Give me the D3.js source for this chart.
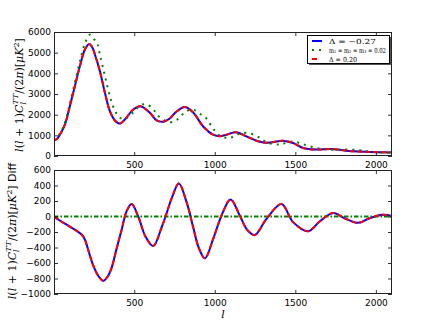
<!DOCTYPE html>
<html>
<head>
<meta charset="utf-8">
<script src="https://cdn.jsdelivr.net/npm/d3@7"></script>
<style>
  body { margin: 0; background: #fff; }
  svg { display: block; }
</style>
</head>
<body>
<div id="chart"></div>
<script>
// ---------------------------------- DATA ---------------------------------- //

// Delta = -0.27 (blue) and Delta = 0.20 (red) overlap exactly
let l_delta = [2, 20, 40, 70, 100, 130, 163, 194, 221, 240, 256, 287, 318, 349, 380, 411, 442, 494, 539, 597, 639, 680, 721, 752, 814, 866, 928, 990, 1031, 1073, 1130, 1197, 1259, 1321, 1392, 1420, 1486, 1548, 1630, 1724, 1858, 1961, 2100];
let cl_delta = [760, 820, 1050, 1530, 2400, 3330, 4350, 5150, 5420, 5250, 4910, 4100, 3060, 2170, 1720, 1570, 1770, 2250, 2410, 2090, 1720, 1660, 1815, 2075, 2370, 2105, 1430, 1030, 960, 1030, 1150, 950, 740, 640, 710, 740, 630, 390, 310, 340, 225, 195, 175];

// m1 = m2 = m3 = 0.02 (green)
let l_mass = [2, 40, 70, 100, 130, 163, 194, 225, 246, 267, 287, 318, 349, 380, 411, 442, 494, 539, 577, 618, 639, 680, 721, 752, 777, 814, 866, 900, 939, 990, 1031, 1073, 1098, 1130, 1155, 1197, 1248, 1290, 1321, 1392, 1420, 1486, 1548, 1630, 1693, 1734, 1806, 1889, 1961, 2044, 2100];
let cl_mass = [740, 1100, 1620, 2530, 3500, 4570, 5450, 5870, 5680, 5520, 4895, 3880, 2890, 2200, 1850, 1800, 2110, 2460, 2490, 2275, 2020, 1760, 1620, 1720, 1810, 2120, 2245, 2070, 1900, 1320, 980, 880, 875, 1020, 1070, 1120, 1010, 830, 660, 555, 585, 700, 565, 385, 320, 297, 310, 290, 215, 158, 170];

// difference panel
let l_diff = [2, 40, 100, 150, 175, 194, 220, 246, 275, 308, 335, 360, 390, 422, 453, 484, 525, 570, 618, 670, 700, 735, 777, 825, 866, 900, 939, 990, 1042, 1098, 1155, 1200, 1248, 1321, 1414, 1486, 1579, 1651, 1734, 1806, 1889, 1961, 2044, 2100];
let diff_delta = [0, -55, -130, -195, -235, -300, -470, -635, -760, -830, -775, -660, -420, -170, 70, 160, 0, -260, -380, -140, 35, 250, 425, 185, -140, -400, -540, -290, 13, 220, 13, -170, -240, -30, 160, -73, -190, -65, 45, -22, -82, -22, 22, 5];
let l_diff_mass = [2, 2100];
let diff_mass = [0, 0];

let x_ticks = [500, 1000, 1500, 2000];
let top_ticks = [0, 1000, 2000, 3000, 4000, 5000, 6000];
let bottom_ticks = [-1000, -800, -600, -400, -200, 0, 200, 400, 600];

let legend_labels = ['Δ = −0.27', 'm₁ = m₂ = m₃ = 0.02', 'Δ = 0.20'];

// ---------------------------------- SETTINGS ---------------------------------- //

let img_width = 436;
let img_height = 327;
let axes_left = 54;
let axes_right = 392;
let top_panel = [32, 156];
let bottom_panel = [170, 294];
let blue = '#0000ff';
let red = '#ff0000';
let green = '#008000';
let tick_font = '9px "DejaVu Sans"';

// ---------------------------------- CORE IMAGE ---------------------------------- //

let svg = d3.select('#chart').append('svg')
  .attr('width', img_width)
  .attr('height', img_height);

let x = d3.scaleLinear().domain([2, 2100]).range([axes_left, axes_right]);
let y_top = d3.scaleLinear().domain([0, 6000]).range([top_panel[1], top_panel[0]]);
let y_bottom = d3.scaleLinear().domain([-1000, 600]).range([bottom_panel[1], bottom_panel[0]]);

function drawAxes(y, ticks, panel) {
  let g = svg.append('g');
  let axes = [
    [d3.axisLeft(y).tickValues(ticks).tickFormat(d3.format('d')), `translate(${axes_left},0)`],
    [d3.axisRight(y).tickValues(ticks).tickFormat(''), `translate(${axes_right},0)`],
    [d3.axisBottom(x).tickValues(x_ticks).tickFormat(d3.format('d')), `translate(0,${panel[1]})`],
    [d3.axisTop(x).tickValues(x_ticks).tickFormat(''), `translate(0,${panel[0]})`]
  ];
  axes.forEach(([axis, t]) => {
    let a = g.append('g').attr('transform', t)
      .call(axis.tickSizeInner(-4).tickSizeOuter(0).tickPadding(3));
    a.select('.domain').remove();
    a.selectAll('line').attr('stroke', '#000').attr('stroke-width', 0.8);
    a.selectAll('text').style('font', tick_font).attr('fill', '#000');
  });
  g.selectAll('.tick text').filter(function() { return d3.select(this).attr('dy') === '0.71em'; })
    .attr('dy', '0.95em');
  svg.append('rect')
    .attr('x', axes_left + 0.5).attr('y', panel[0] + 0.5)
    .attr('width', axes_right - axes_left - 1).attr('height', panel[1] - panel[0] - 1)
    .attr('fill', 'none').attr('stroke', '#222').attr('stroke-width', 1);
}

function drawLine(ls, vs, y, color, dash, clip) {
  let line = d3.line().x((d, i) => x(ls[i])).y(d => y(d)).curve(d3.curveCatmullRom.alpha(0.5));
  svg.append('path')
    .datum(vs)
    .attr('d', line)
    .attr('clip-path', `url(#${clip})`)
    .attr('fill', 'none')
    .attr('stroke', color)
    .attr('stroke-width', 2)
    .attr('stroke-dasharray', dash);
}

let defs = svg.append('defs');
[['clip_top', top_panel], ['clip_bottom', bottom_panel]].forEach(([id, p]) => {
  defs.append('clipPath').attr('id', id).append('rect')
    .attr('x', axes_left).attr('y', p[0]).attr('width', axes_right - axes_left).attr('height', p[1] - p[0]);
});

// ---------------------------------- TOP PANEL ---------------------------------- //

drawLine(l_delta, cl_delta, y_top, blue, null, 'clip_top');
drawLine(l_mass, cl_mass, y_top, green, '2,5', 'clip_top');
drawLine(l_delta, cl_delta, y_top, red, '5,3', 'clip_top');
drawAxes(y_top, top_ticks, top_panel);

// ---------------------------------- BOTTOM PANEL ---------------------------------- //

drawLine(l_diff, diff_delta, y_bottom, blue, null, 'clip_bottom');
drawLine(l_diff_mass, diff_mass, y_bottom, green, '4.5,2,1.5,2', 'clip_bottom');
drawLine(l_diff, diff_delta, y_bottom, red, '5,3', 'clip_bottom');
drawAxes(y_bottom, bottom_ticks, bottom_panel);

// ---------------------------------- LABELS ---------------------------------- //

function mathLabel(xt, yt, suffix) {
  let t = svg.append('text')
    .attr('transform', `translate(${xt},${yt}) rotate(-90)`)
    .attr('text-anchor', 'middle')
    .attr('font-family', '"DejaVu Serif"')
    .attr('font-size', 11)
    .attr('fill', '#000');
  let parts = [
    ['l', true], ['(', false], ['l', true], [' + 1)', false], ['C', true]
  ];
  parts.forEach(([s, it]) => t.append('tspan').attr('font-style', it ? 'italic' : 'normal').text(s));
  t.append('tspan').attr('font-style', 'italic').attr('font-size', 8).attr('dy', 3).text('l');
  t.append('tspan').attr('font-style', 'italic').attr('font-size', 8).attr('dx', -2.5).attr('dy', -8).text('TT');
  t.append('tspan').attr('dy', 5).text('/(2');
  t.append('tspan').attr('font-style', 'italic').text('π');
  t.append('tspan').text(')[');
  t.append('tspan').attr('font-style', 'italic').text('μK');
  t.append('tspan').attr('font-size', 8).attr('dy', -4).text('2');
  t.append('tspan').attr('dy', 4).text(']');
  if (suffix) {
    t.append('tspan').attr('font-family', '"DejaVu Sans"').attr('font-size', 11).text(suffix);
  }
}

mathLabel(23, 95, null);
mathLabel(16, 231, ' Diff');

svg.append('text')
  .attr('x', (axes_left + axes_right) / 2)
  .attr('y', 318)
  .attr('text-anchor', 'middle')
  .attr('font-family', '"DejaVu Serif"')
  .attr('font-style', 'italic')
  .attr('font-size', 11)
  .text('l');

// ---------------------------------- LEGEND ---------------------------------- //

let legend = svg.append('g').attr('transform', 'translate(307,35)');
legend.append('rect').attr('x', 2).attr('y', 2).attr('width', 82).attr('height', 28).attr('fill', '#555');
legend.append('rect').attr('x', 0.5).attr('y', 0.5).attr('width', 82).attr('height', 28)
  .attr('fill', '#fff').attr('stroke', '#000').attr('stroke-width', 1);
let legend_styles = [[blue, null], [green, '2,5'], [red, '5,5']];
let legend_widths = [47, 57, 28];
legend_labels.forEach((lab, i) => {
  let yy = 6 + i * 9;
  legend.append('line')
    .attr('x1', 5).attr('x2', 15).attr('y1', yy).attr('y2', yy)
    .attr('stroke', legend_styles[i][0]).attr('stroke-width', 2)
    .attr('stroke-dasharray', legend_styles[i][1]);
  legend.append('text')
    .attr('x', 22).attr('y', yy + 2.5)
    .attr('font-family', '"DejaVu Serif"')
    .attr('font-size', 7)
    .attr('textLength', legend_widths[i])
    .attr('lengthAdjust', 'spacingAndGlyphs')
    .text(lab);
});
</script>
</body>
</html>
